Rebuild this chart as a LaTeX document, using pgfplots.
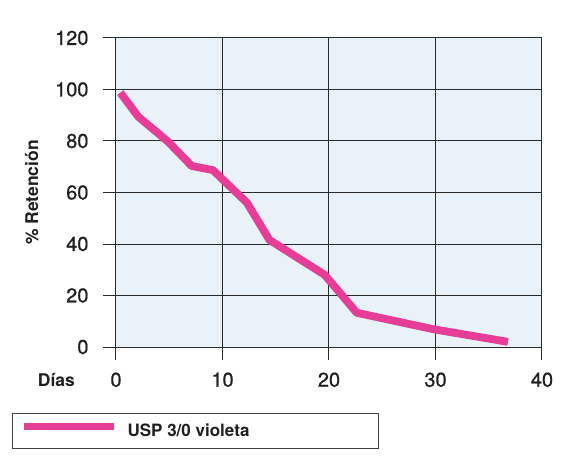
\documentclass[border=0pt]{standalone}
\usepackage{pgfplots}
\pgfplotsset{compat=1.18}
\usepackage{fontspec}
\setmainfont{TeX Gyre Heros}
\newfontfamily\tickfont[FakeBold=0.7]{TeX Gyre Heros}
\definecolor{bgblue}{HTML}{E9F1F9}
\definecolor{lpink}{HTML}{E63E96}
\definecolor{gridc}{HTML}{2A2A2A}
\begin{document}
\begin{tikzpicture}
\begin{axis}[
  scale only axis,
  width=426pt, height=309pt,
  xmin=0, xmax=40, ymin=0, ymax=120,
  xtick={0,10,20,30,40}, ytick={0,20,40,60,80,100,120},
  axis background/.style={fill=bgblue},
  axis line style={draw=gridc, line width=1pt},
  grid=major,
  major grid style={draw=gridc, line width=1pt},
  tick align=outside, tick pos=left,
  major tick length=13pt,
  every tick/.style={draw=gridc, line width=1pt},
  /pgf/number format/assume math mode=true,
  ticklabel style={font=\tickfont\fontsize{20}{22}\selectfont, text=black!88},
  yticklabel style={xshift=-11pt},
  xticklabel style={yshift=-9pt},
  xlabel={\textbf{Días}},
  xlabel style={font=\fontsize{17.5}{19}\selectfont, text=black!88, at={(axis description cs:-0.14,0)}, anchor=center, yshift=-33pt},
  ylabel={\textbf{\% Retención}},
  ylabel style={font=\fontsize{17.5}{19}\selectfont, text=black!88, at={(axis description cs:-0.198,0.5)}, anchor=center, rotate=0},
  legend image code/.code={\draw[#1, line cap=butt] (0pt,4.3pt) -- (90pt,4.3pt);},
  legend style={at={(axis description cs:-0.2434,-0.213)}, anchor=north west,
    draw=black!75, line width=1pt, inner xsep=7pt, inner ysep=0pt,
    nodes={inner sep=0pt, minimum height=35pt},
    /tikz/every odd column/.append style={column sep=10pt},
    font=\fontsize{17}{19}\selectfont, text=black!88},
  legend cell align=left,
]
\addplot[color=lpink, line width=7.8pt, line join=round, line cap=butt] coordinates {
  (0.4,98.8) (2.1,89.4) (4.9,79.7) (7.1,70.3) (9.1,68.7) (12.3,56.0)
  (14.4,41.6) (19.6,28.0) (22.6,13.3) (29.8,6.9) (36.8,2.0)
};
\addlegendentry{\makebox[244pt][l]{\textbf{USP 3/0 violeta}}}
\end{axis}
\pgfresetboundingbox
\path[use as bounding box] ([xshift=-116pt,yshift=-111pt]current axis.south west) rectangle ([xshift=452pt,yshift=347pt]current axis.south west);
\end{tikzpicture}
\end{document}
